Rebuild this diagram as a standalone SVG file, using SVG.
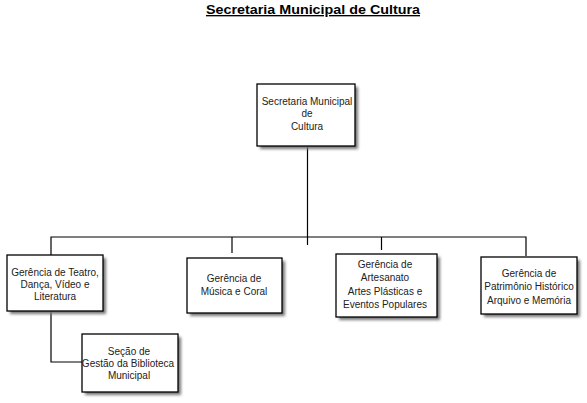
<svg xmlns="http://www.w3.org/2000/svg" width="587" height="403" viewBox="0 0 587 403">
<defs>
<filter id="sh" x="-10%" y="-10%" width="130%" height="140%">
<feGaussianBlur stdDeviation="1.5"/>
</filter>
</defs>
<style>
.box{fill:#fff;stroke:#000;stroke-width:1.3}
.shadow{fill:#777;filter:url(#sh)}
.t{font-family:"Liberation Sans",Arial,sans-serif;font-size:10px;fill:#222;text-anchor:middle}
.ttl{font-family:"Liberation Sans",Arial,sans-serif;font-size:13.5px;font-weight:bold;fill:#000;text-anchor:middle;text-decoration:underline}
.c{stroke:#000;stroke-width:1.2;fill:none}
</style>
<rect width="587" height="403" fill="#fff"/>
<text class="ttl" x="313" y="14" textLength="214" lengthAdjust="spacingAndGlyphs">Secretaria Municipal de Cultura</text>
<g id="connectors">
<path class="c" d="M307.5 146V245"/>
<path class="c" d="M51 255V237H526V256"/>
<path class="c" d="M232 237V253"/>
<path class="c" d="M381.5 237V250"/>
<path class="c" d="M51 311V362H82"/>
</g>
<g id="n0">
<rect class="shadow" x="260" y="87" width="98" height="62"/>
<rect class="box" x="257" y="84" width="98" height="62"/>
<text class="t" x="307" y="105">Secretaria Municipal</text>
<text class="t" x="307" y="117">de</text>
<text class="t" x="307" y="130">Cultura</text>
</g>
<g id="n1">
<rect class="shadow" x="10" y="258" width="96" height="56"/>
<rect class="box" x="7" y="255" width="96" height="56"/>
<text class="t" x="55" y="275.5">Gerência de Teatro,</text>
<text class="t" x="55" y="288">Dança, Vídeo e</text>
<text class="t" x="55" y="300">Literatura</text>
</g>
<g id="n2">
<rect class="shadow" x="190" y="261" width="95" height="55"/>
<rect class="box" x="187" y="258" width="95" height="55"/>
<text class="t" x="234" y="282">Gerência  de</text>
<text class="t" x="234" y="295">Música e Coral</text>
</g>
<g id="n3">
<rect class="shadow" x="339" y="257" width="101" height="63"/>
<rect class="box" x="336" y="254" width="101" height="63"/>
<text class="t" x="385" y="268">Gerência de</text>
<text class="t" x="385" y="281">Artesanato</text>
<text class="t" x="385" y="295">Artes Plásticas e</text>
<text class="t" x="385" y="308">Eventos Populares</text>
</g>
<g id="n4">
<rect class="shadow" x="484" y="260" width="96" height="57"/>
<rect class="box" x="481" y="257" width="96" height="57"/>
<text class="t" x="529" y="276.5">Gerência de</text>
<text class="t" x="529" y="290">Patrimônio Histórico</text>
<text class="t" x="529" y="303.5">Arquivo e Memória</text>
</g>
<g id="n5">
<rect class="shadow" x="85" y="337" width="96" height="58"/>
<rect class="box" x="82" y="334" width="96" height="58"/>
<text class="t" x="129" y="355">Seção de</text>
<text class="t" x="128" y="367">Gestão da Biblioteca</text>
<text class="t" x="129" y="378.5">Municipal</text>
</g>
</svg>
